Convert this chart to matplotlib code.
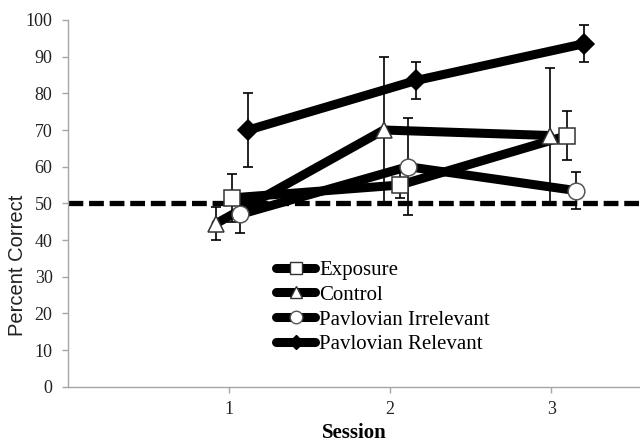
import matplotlib
matplotlib.use('Agg')
import matplotlib.pyplot as plt
from matplotlib.lines import Line2D

# sessions and group names
sessions = [1, 2, 3]
group_names = ['Exposure', 'Control', 'Pavlovian Irrelevant', 'Pavlovian Relevant']

# x positions as drawn (groups are nudged sideways around each session)
exposure_x = [1.02, 2.06, 3.10]
control_x = [0.92, 1.96, 2.99]
pav_irr_x = [1.07, 2.11, 3.15]
pav_rel_x = [1.12, 2.16, 3.20]

# percent correct (mean) and error
exposure_mean = [51.5, 55.0, 68.5]
exposure_err = [6.5, 3.5, 6.8]
control_mean = [44.5, 70.0, 68.5]
control_err = [4.5, 20.0, 18.5]
pav_irr_mean = [47.0, 60.0, 53.5]
pav_irr_err = [5.0, 13.3, 5.0]
pav_rel_mean = [70.0, 83.5, 93.5]
pav_rel_err = [10.0, 5.0, 5.0]

chance_level = 50

serif = 'Liberation Serif'
axis_grey = '#a6a6a6'

fig = plt.figure(figsize=(6.4, 4.44), dpi=100)
ax = fig.add_axes([0.106, 0.129, 0.894, 0.826])

# chance line
ax.axhline(chance_level, color='black', lw=3.8, ls=(0, (2.8, 1.1)), zorder=1)

groups = [
    (exposure_x, exposure_mean, exposure_err, dict(marker='s', mfc='white', mec='#333333')),
    (control_x, control_mean, control_err, dict(marker='^', mfc='white', mec='#333333')),
    (pav_irr_x, pav_irr_mean, pav_irr_err, dict(marker='o', mfc='white', mec='#555555')),
    (pav_rel_x, pav_rel_mean, pav_rel_err, dict(marker='D', mfc='black', mec='black')),
]

# error bars under the lines
for x, y, err, style in groups:
    ax.errorbar(x, y, yerr=err, fmt='none', ecolor='black', elinewidth=1.2,
                capsize=3.5, capthick=1.2, zorder=2)

handles = []
for (x, y, err, style), name in zip(groups, group_names):
    ms = 12 if style['marker'] != 'D' else 10
    ax.plot(x, y, color='black', lw=6.5, solid_capstyle='round',
            solid_joinstyle='round', ms=ms, mew=1.1, zorder=3, **style)
    handles.append(Line2D([], [], color='black', lw=6.5, solid_capstyle='round',
                          ms=ms - 3, mew=1.0, label=name, **style))

ax.set_xlim(0, 3.55)
ax.set_ylim(0, 100)
ax.set_xticks(sessions)
ax.set_yticks(range(0, 101, 10))

for side in ['top', 'right']:
    ax.spines[side].set_visible(False)
for side in ['left', 'bottom']:
    ax.spines[side].set_color(axis_grey)
    ax.spines[side].set_linewidth(1.0)

ax.tick_params(axis='both', colors=axis_grey, length=4, width=1.0, direction='out')
ax.tick_params(axis='y', pad=7)
ax.tick_params(axis='x', pad=6)
for lab in ax.get_xticklabels() + ax.get_yticklabels():
    lab.set_fontfamily(serif)
    lab.set_fontsize(13)
    lab.set_color('#222222')

ax.set_xlabel('Session', fontfamily=serif, fontweight='bold', fontsize=15, labelpad=4)
fig.text(18 / 640, 1 - 265 / 444, 'Percent Correct', rotation=90, ha='center', va='center',
         fontfamily='Liberation Sans', fontsize=14.5, color='#222222')

leg = ax.legend(handles=handles, loc='upper left', bbox_to_anchor=(266 / 640, 1 - 250 / 444),
                bbox_transform=fig.transFigure, frameon=False, borderpad=0,
                handlelength=1.85, handletextpad=0.2, labelspacing=0.25,
                prop={'family': serif, 'size': 15})

fig.savefig('out.png', dpi=100)
